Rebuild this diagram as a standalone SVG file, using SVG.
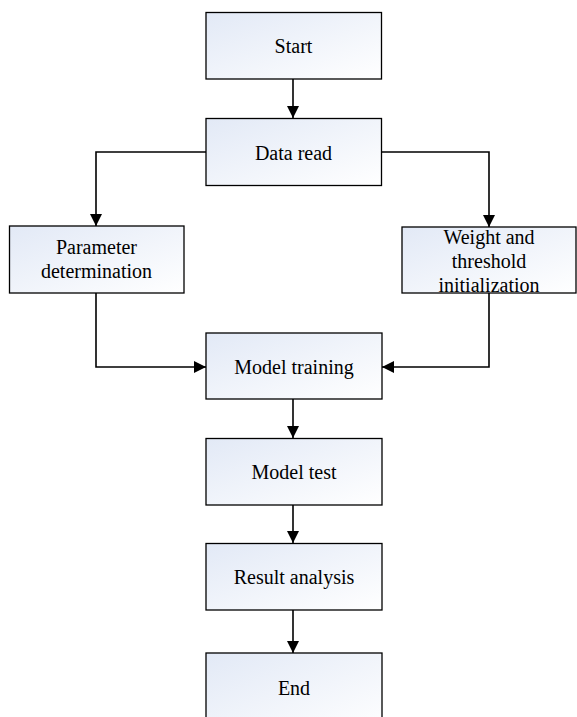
<svg xmlns="http://www.w3.org/2000/svg" width="577" height="717" viewBox="0 0 577 717">
<style>
.box{fill:url(#g);stroke:#000;stroke-width:1.3}
.t{font-family:"Liberation Serif","Times New Roman",serif;font-size:20px;fill:#000;text-anchor:middle}
.c{fill:none;stroke:#000;stroke-width:1.6}
</style>
<defs>
<linearGradient id="g" x1="0" y1="0" x2="1" y2="1">
<stop offset="0" stop-color="#e2e9f6"/>
<stop offset="1" stop-color="#ffffff"/>
</linearGradient>
<marker id="a" markerWidth="13" markerHeight="12" refX="10" refY="5" orient="auto" markerUnits="userSpaceOnUse" viewBox="0 0 10 10">
<path d="M0,0 L10,5 L0,10 Z" fill="#000"/>
</marker>
</defs>
<g id="connectors">
<path class="c" d="M293,79 V118" marker-end="url(#a)"/>
<path class="c" d="M206,152 H96 V226" marker-end="url(#a)"/>
<path class="c" d="M381,152 H489 V227" marker-end="url(#a)"/>
<path class="c" d="M96,293 V367 H206" marker-end="url(#a)"/>
<path class="c" d="M489,293 V367 H382" marker-end="url(#a)"/>
<path class="c" d="M293,399 V438" marker-end="url(#a)"/>
<path class="c" d="M293,505 V543" marker-end="url(#a)"/>
<path class="c" d="M293,610 V653" marker-end="url(#a)"/>
</g>
<g id="start"><rect class="box" x="206" y="12.5" width="175.5" height="66.5"/><text class="t" x="293.5" y="53">Start</text></g>
<g id="dataread"><rect class="box" x="206" y="118.5" width="175.5" height="67"/><text class="t" x="293.5" y="160">Data read</text></g>
<g id="param"><rect class="box" x="9.5" y="226" width="174.5" height="67"/><text class="t" x="96.5" y="254">Parameter</text><text class="t" x="96.5" y="278">determination</text></g>
<g id="weight"><rect class="box" x="402" y="227" width="174" height="66"/><text class="t" x="489" y="244">Weight and</text><text class="t" x="489" y="268">threshold</text><text class="t" x="489" y="292">initialization</text></g>
<g id="training"><rect class="box" x="206" y="333" width="176" height="66"/><text class="t" x="294" y="374">Model training</text></g>
<g id="test"><rect class="box" x="206" y="438.5" width="176" height="66.5"/><text class="t" x="294" y="479">Model test</text></g>
<g id="result"><rect class="box" x="206" y="543.5" width="176" height="66.5"/><text class="t" x="294" y="584">Result analysis</text></g>
<g id="end"><rect class="box" x="206" y="653" width="176" height="80"/><text class="t" x="294" y="695">End</text></g>
</svg>
